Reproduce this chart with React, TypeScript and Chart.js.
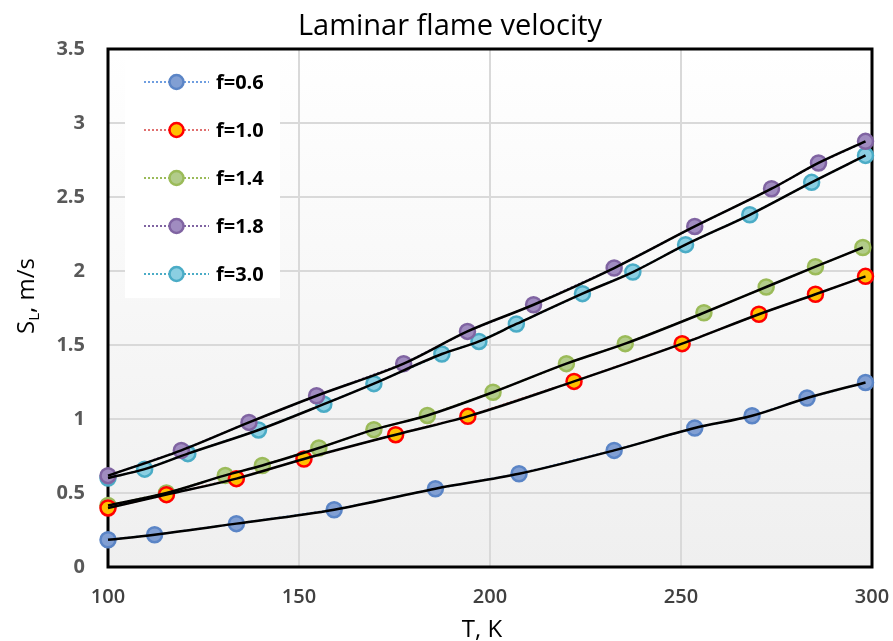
import React, { useEffect, useRef } from "react";
import { Chart, registerables } from "chart.js";

Chart.register(...registerables);

const TITLE = "Laminar flame velocity";
const X_TITLE = "T, K";
const Y_TICKS = [0, 0.5, 1, 1.5, 2, 2.5, 3, 3.5];
const X_TICKS = [100, 150, 200, 250, 300];

const LABELS = ["f=0.6", "f=1.0", "f=1.4", "f=1.8", "f=3.0"];

const T06 = [100, 112.2, 133.6, 159.2, 185.7, 207.6, 232.5, 253.6, 268.6, 283.0, 298.3];
const S06 = [0.184, 0.218, 0.293, 0.387, 0.529, 0.63, 0.788, 0.939, 1.022, 1.142, 1.247];
const T10 = [100, 115.3, 133.6, 151.3, 175.3, 194.2, 222.0, 250.3, 270.4, 285.2, 298.3];
const S10 = [0.399, 0.489, 0.597, 0.73, 0.894, 1.018, 1.254, 1.509, 1.708, 1.843, 1.964];
const T14 = [100, 115.3, 130.7, 140.4, 155.2, 169.6, 183.6, 200.8, 220.0, 235.4, 256.0, 272.3, 285.2, 297.6];
const S14 = [0.416, 0.5, 0.619, 0.686, 0.804, 0.928, 1.024, 1.181, 1.374, 1.509, 1.718, 1.892, 2.029, 2.159];
const T18 = [100, 119.2, 136.9, 154.6, 177.4, 194.1, 211.4, 232.5, 253.6, 273.7, 286.0, 298.3];
const S18 = [0.617, 0.788, 0.977, 1.157, 1.374, 1.592, 1.772, 2.02, 2.301, 2.556, 2.73, 2.876];
const T30 = [100, 109.6, 120.9, 139.4, 156.5, 169.6, 187.4, 197.1, 206.9, 224.2, 237.4, 251.2, 268.0, 284.2, 298.3];
const S30 = [0.601, 0.661, 0.766, 0.926, 1.1, 1.239, 1.439, 1.524, 1.642, 1.847, 1.993, 2.178, 2.38, 2.599, 2.781];

const SERIES_T = [T06, T10, T14, T18, T30];
const SERIES_S = [S06, S10, S14, S18, S30];

const LINE_COLORS = ["#6f9ee0", "#e07070", "#9bbb59", "#8064a2", "#4bacc6"];
const FILL_COLORS = ["#819fd3", "#ffc000", "#b2cc8a", "#a08cc0", "#8bcfe2"];
const EDGE_COLORS = ["#5b85c6", "#ff0000", "#9bbb59", "#8064a2", "#4bacc6"];

const FONT = "'Open Sans', 'Noto Sans', sans-serif";

function pts(t: number[], s: number[]) {
  return t.map((x, i) => ({ x, y: s[i] }));
}

const decorPlugin = {
  id: "decor",
  beforeDraw(chart: any) {
    const { ctx, chartArea: a } = chart;
    ctx.save();
    ctx.fillStyle = "#ffffff";
    ctx.fillRect(0, 0, chart.width, chart.height);
    const g = ctx.createLinearGradient(0, a.top, 0, a.bottom);
    g.addColorStop(0, "#ffffff");
    g.addColorStop(1, "#efefef");
    ctx.fillStyle = g;
    ctx.fillRect(a.left, a.top, a.right - a.left, a.bottom - a.top);
    ctx.restore();
  },
  beforeDatasetsDraw(chart: any) {
    const { ctx, chartArea: a } = chart;
    ctx.save();
    ctx.fillStyle = "#ffffff";
    ctx.fillRect(125, 60, 155, 238);
    ctx.strokeStyle = "#000000";
    ctx.lineWidth = 3;
    ctx.strokeRect(a.left, a.top, a.right - a.left, a.bottom - a.top);
    ctx.restore();
  },
  afterDraw(chart: any) {
    const { ctx } = chart;
    ctx.save();
    const ds = chart.data.datasets.filter((d: any) => d.isSeries);
    ds.forEach((d: any, i: number) => {
      const y = 82 + i * 48;
      ctx.strokeStyle = d.borderColor;
      ctx.lineWidth = 2;
      ctx.setLineDash([2, 2]);
      ctx.beginPath();
      ctx.moveTo(144, y);
      ctx.lineTo(209, y);
      ctx.stroke();
      ctx.setLineDash([]);
      ctx.beginPath();
      ctx.arc(176.5, y, 7, 0, Math.PI * 2);
      ctx.fillStyle = d.pointBackgroundColor;
      ctx.fill();
      ctx.lineWidth = 2.5;
      ctx.strokeStyle = d.pointBorderColor;
      ctx.stroke();
      ctx.fillStyle = "#000000";
      ctx.font = `bold 20px ${FONT}`;
      ctx.textAlign = "left";
      ctx.textBaseline = "middle";
      ctx.fillText(d.label, 216, y + 1);
    });
    ctx.fillStyle = "#000000";
    ctx.font = `29px ${FONT}`;
    ctx.textAlign = "center";
    ctx.textBaseline = "alphabetic";
    ctx.fillText(TITLE, 450, 35);
    ctx.font = `24px ${FONT}`;
    ctx.fillText(X_TITLE, 482, 637);
    ctx.translate(34, 296);
    ctx.rotate(-Math.PI / 2);
    const big = `24px ${FONT}`;
    const small = `15px ${FONT}`;
    ctx.font = big;
    const wS = ctx.measureText("S").width;
    const wRest = ctx.measureText(", m/s").width;
    ctx.font = small;
    const wL = ctx.measureText("L").width;
    const total = wS + wL + wRest;
    let x = -total / 2;
    ctx.textAlign = "left";
    ctx.font = big;
    ctx.fillText("S", x, 0);
    x += wS;
    ctx.font = small;
    ctx.fillText("L", x, 5);
    x += wL;
    ctx.font = big;
    ctx.fillText(", m/s", x, 0);
    ctx.restore();
  },
};

export default function App() {
  const ref = useRef<HTMLCanvasElement | null>(null);
  useEffect(() => {
    if (!ref.current) return;
    const series = SERIES_T.map((t, i) => ({
      label: LABELS[i],
      isSeries: true,
      data: pts(t, SERIES_S[i]),
      showLine: true,
      borderColor: LINE_COLORS[i],
      borderWidth: 2,
      borderDash: [2, 2],
      pointRadius: 7.5,
      pointBackgroundColor: FILL_COLORS[i],
      pointBorderColor: EDGE_COLORS[i],
      pointBorderWidth: 2.5,
      clip: false,
      order: 1,
    }));
    const trends = SERIES_T.map((t, i) => ({
      label: LABELS[i] + " trend",
      isSeries: false,
      data: pts(t, SERIES_S[i]),
      showLine: true,
      borderColor: "#000000",
      borderWidth: 2.5,
      pointRadius: 0,
      cubicInterpolationMode: "monotone",
      clip: false,
      order: 0,
    }));
    const chart = new Chart(ref.current, {
      type: "scatter",
      data: { datasets: [...series, ...trends] as any },
      options: {
        responsive: false,
        animation: false,
        layout: { padding: { top: 49, right: 21, left: 0, bottom: 0 } },
        plugins: {
          legend: { display: false },
          title: { display: false },
          tooltip: { enabled: false },
        },
        scales: {
          x: {
            type: "linear",
            min: 100,
            max: 300,
            afterBuildTicks: (s: any) => {
              s.ticks = X_TICKS.map((v) => ({ value: v }));
            },
            afterFit: (s: any) => {
              s.height = 74;
              s.paddingLeft = 0;
              s.paddingRight = 0;
            },
            grid: { color: "#d9d9d9", lineWidth: 2, drawTicks: false },
            border: { display: false },
            ticks: {
              padding: 18,
              color: "#404040",
              font: { family: FONT, size: 20, weight: "600" },
              maxRotation: 0,
            },
          },
          y: {
            type: "linear",
            min: 0,
            max: 3.5,
            afterBuildTicks: (s: any) => {
              s.ticks = Y_TICKS.map((v) => ({ value: v }));
            },
            afterFit: (s: any) => {
              s.width = 108;
              s.paddingTop = 0;
              s.paddingBottom = 0;
            },
            grid: { color: "#d9d9d9", lineWidth: 2, drawTicks: false },
            border: { display: false },
            ticks: {
              padding: 23,
              color: "#595959",
              font: { family: FONT, size: 20, weight: "bold" },
              callback: (v: any) => String(v),
            },
          },
        },
      },
      plugins: [decorPlugin],
    });
    return () => chart.destroy();
  }, []);
  return (
    <div style={{ position: "fixed", left: 0, top: 0, width: 893, height: 641 }}>
      <canvas ref={ref} width={893} height={641} style={{ display: "block" }} />
    </div>
  );
}
